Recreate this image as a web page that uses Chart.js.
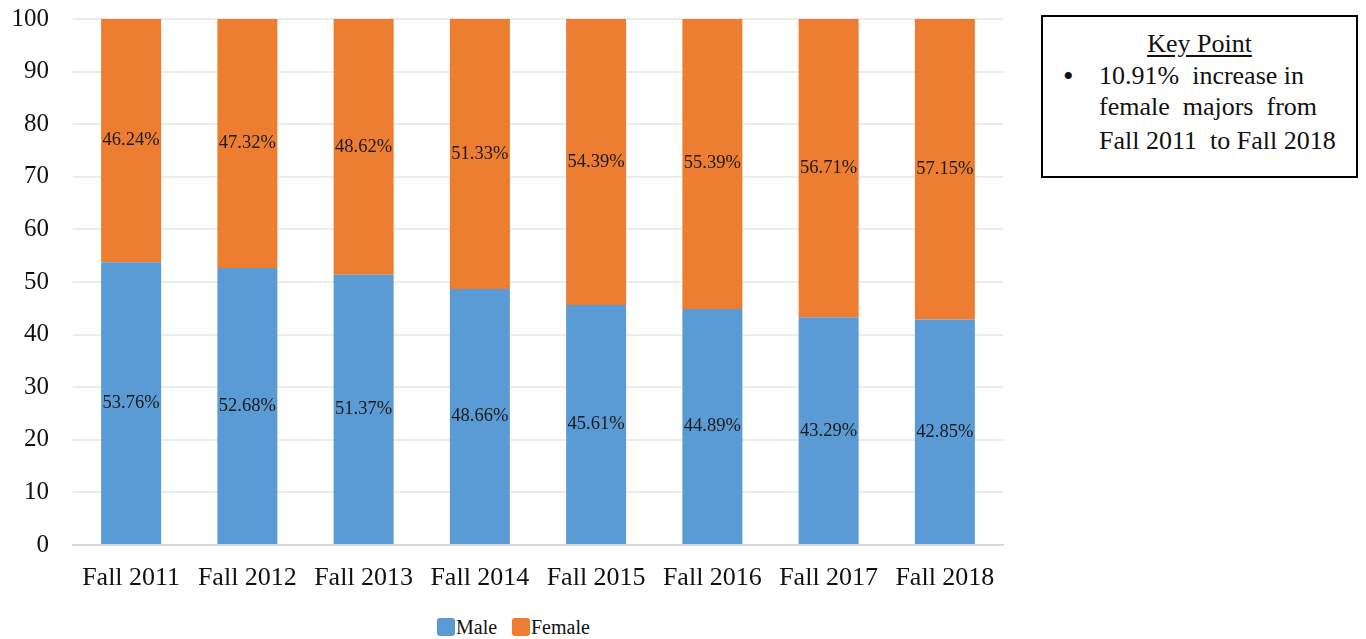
<!DOCTYPE html>
<html>
<head>
<meta charset="utf-8">
<script src="https://cdn.jsdelivr.net/npm/chart.js@4.4.1/dist/chart.umd.min.js"></script>
<style>
  html, body { margin: 0; padding: 0; background: #fff; }
  body { width: 1366px; height: 639px; position: relative; overflow: hidden; font-family: "Liberation Serif", "Times New Roman", serif; color: #111; }
  #wrap { position: absolute; left: 0; top: -20px; width: 1030px; height: 613px; }
  #keybox {
    position: absolute; left: 1041px; top: 15px; width: 313px; height: 159px;
    border: 2px solid #000; box-sizing: content-box;
    font-size: 26px;
  }
  #keybox .ln { position: absolute; white-space: pre; line-height: 30px; height: 30px; }
  #keybox .title { left: 0; right: 0; text-align: center; text-decoration: underline; text-underline-offset: 3px; }
  #legend { position: absolute; left: 0; top: 615px; width: 1030px; height: 24px; font-size: 20px; }
  #legend .item { position: absolute; top: 0; line-height: 24px; }
  #legend .sw { position: absolute; width: 18px; height: 18px; border-radius: 3px; top: 3px; }
</style>
</head>
<body>
<div id="wrap"><canvas id="c"></canvas></div>
<div id="keybox">
  <div class="ln title" style="top:12px">Key Point</div>
  <div class="ln" style="left:20px;top:44px;font-size:30px">•</div>
  <div class="ln" style="left:56px;top:44px">10.91%  increase in</div>
  <div class="ln" style="left:56px;top:75px">female  majors  from</div>
  <div class="ln" style="left:56px;top:109px">Fall 2011  to Fall 2018</div>
</div>
<div id="legend"></div>
<script>
const categories = ["Fall 2011", "Fall 2012", "Fall 2013", "Fall 2014", "Fall 2015", "Fall 2016", "Fall 2017", "Fall 2018"];
const maleValues = [53.76, 52.68, 51.37, 48.66, 45.61, 44.89, 43.29, 42.85];
const femaleValues = [46.24, 47.32, 48.62, 51.33, 54.39, 55.39, 56.71, 57.15];
const yTicks = [0, 10, 20, 30, 40, 50, 60, 70, 80, 90, 100];
const seriesNames = ["Male", "Female"];
const seriesColors = ["#5B9BD5", "#ED7D31"];

const FONT = "'Liberation Serif', 'Times New Roman', serif";

const labelPlugin = {
  id: 'segLabels',
  afterDatasetsDraw(chart) {
    const ctx = chart.ctx;
    ctx.save();
    ctx.font = "18.5px " + FONT;
    ctx.fillStyle = "#1a1a1a";
    ctx.textAlign = "center";
    ctx.textBaseline = "middle";
    chart.data.datasets.forEach((ds, di) => {
      const meta = chart.getDatasetMeta(di);
      meta.data.forEach((bar, i) => {
        const p = bar.getProps(['x', 'y', 'base'], true);
        const cy = (p.y + p.base) / 2;
        ctx.fillText(ds.data[i].toFixed(2) + "%", p.x, cy);
      });
    });
    ctx.restore();
  }
};

const chart = new Chart(document.getElementById('c'), {
  type: 'bar',
  data: {
    labels: categories,
    datasets: [
      { label: seriesNames[0], data: maleValues, backgroundColor: seriesColors[0], barPercentage: 0.516, categoryPercentage: 1.0 },
      { label: seriesNames[1], data: femaleValues, backgroundColor: seriesColors[1], barPercentage: 0.516, categoryPercentage: 1.0 }
    ]
  },
  options: {
    responsive: true,
    maintainAspectRatio: false,
    animation: false,
    layout: { padding: { left: 0, right: 27, top: 0, bottom: 0 } },
    scales: {
      x: {
        stacked: true,
        afterFit(axis) { axis.height = 48; },
        grid: { display: false, drawTicks: false },
        border: { display: true, color: '#d9d9d9', width: 2 },
        ticks: { color: '#111', font: { family: FONT, size: 26 }, padding: 18, maxRotation: 0 }
      },
      y: {
        stacked: true,
        min: 0, max: 100,
        afterBuildTicks(axis) { axis.ticks = yTicks.map(v => ({ value: v })); },
        afterFit(axis) { axis.width = 73; },
        grid: { color: '#ececec', lineWidth: 2, drawTicks: false },
        border: { display: false },
        ticks: { color: '#111', font: { family: FONT, size: 25 }, padding: 24 }
      }
    },
    plugins: {
      legend: { display: false },
      tooltip: { enabled: false }
    }
  },
  plugins: [labelPlugin]
});

// HTML legend built from the chart's datasets
const legendEl = document.getElementById('legend');
const legendPos = [437, 512];
chart.data.datasets.forEach((ds, i) => {
  const sw = document.createElement('div');
  sw.className = 'sw';
  sw.style.left = legendPos[i] + 'px';
  sw.style.background = ds.backgroundColor;
  legendEl.appendChild(sw);
  const t = document.createElement('div');
  t.className = 'item';
  t.style.left = (legendPos[i] + 19) + 'px';
  t.textContent = ds.label;
  legendEl.appendChild(t);
});
</script>
</body>
</html>
